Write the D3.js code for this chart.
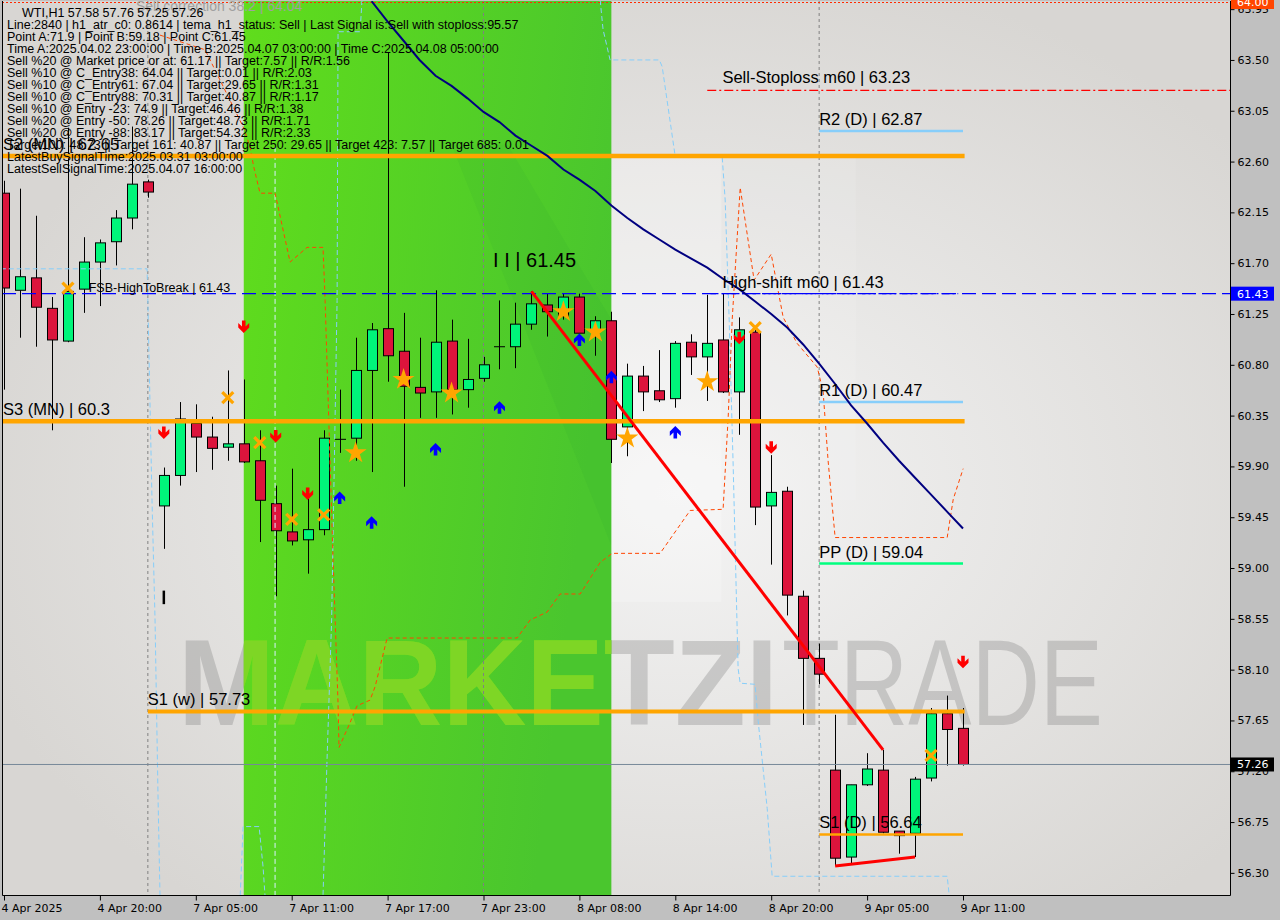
<!DOCTYPE html>
<html><head><meta charset="utf-8">
<script src="https://cdn.jsdelivr.net/npm/d3@7"></script>
<style>body{margin:0;background:#c0c0c0;}svg{display:block;}</style>
</head><body>
<svg id="c" width="1280" height="920"></svg>
<script>
// ---------- DATA ----------
const opens  = [62.32,61.46,61.57,61.30,61.01,61.47,61.71,61.89,62.10,62.42,59.55,59.82,60.28,60.16,60.07,60.10,59.95,59.57,59.32,59.25,59.34,60.14,60.15,60.75,61.12,60.92,60.60,60.56,61.01,60.58,60.68,60.96,60.96,61.16,61.33,61.23,61.40,61.11,61.19,60.25,60.70,60.57,60.50,61.00,60.87,61.02,60.56,61.09,59.55,59.68,58.75,58.20,57.21,56.44,57.08,57.21,56.67,56.65,57.14,57.71,57.58];
const highs  = [62.43,62.36,62.12,61.40,62.90,61.93,61.91,62.17,62.91,62.44,59.89,60.47,60.45,60.34,60.75,60.67,60.22,59.73,59.88,59.69,60.22,60.58,61.04,61.17,63.57,61.26,61.04,61.46,61.20,61.03,60.87,61.37,61.35,61.45,61.43,61.43,61.43,61.23,61.27,60.81,60.79,60.93,61.01,61.07,61.42,61.43,61.22,61.13,60.00,59.72,58.80,58.33,57.70,57.08,57.36,57.39,56.67,57.15,57.76,57.87,57.76];
const lows   = [60.58,61.04,60.96,60.22,61.00,61.26,61.32,61.68,62.00,62.28,59.17,59.73,59.85,59.87,59.95,59.93,59.23,58.75,59.20,58.95,59.29,60.02,59.95,59.85,60.65,59.72,60.33,60.33,60.36,60.42,60.65,60.76,60.77,61.11,61.05,61.20,61.08,60.88,59.93,59.99,60.39,60.47,60.42,60.71,60.48,60.55,60.18,59.38,59.03,58.58,57.61,57.97,56.36,56.37,57.07,56.65,56.47,56.44,57.11,57.25,57.25];
const closes = [61.48,61.58,61.31,61.02,61.45,61.71,61.88,62.10,62.40,62.33,59.82,60.32,60.16,60.06,60.10,59.94,59.60,59.33,59.24,59.34,60.15,60.14,60.75,61.11,60.88,60.61,60.55,61.00,60.58,60.67,60.80,60.96,61.16,61.34,61.27,61.40,61.08,61.19,60.14,60.70,60.56,60.49,60.99,60.87,60.99,60.56,61.11,59.54,59.67,58.76,58.20,58.06,56.43,57.08,57.22,56.66,56.63,57.13,57.71,57.57,57.26];

const timeTickIdx = [0,6,12,18,24,30,36,42,48,54,60];
const timeLabels = ["4 Apr 2025","4 Apr 20:00","7 Apr 05:00","7 Apr 11:00","7 Apr 17:00","7 Apr 23:00","8 Apr 08:00","8 Apr 14:00","8 Apr 20:00","9 Apr 05:00","9 Apr 11:00"];
const priceTicks = d3.range(18).map(i => +(56.30 + i*0.45).toFixed(2));

const headerLines = [
 "Line:2840 | h1_atr_c0: 0.8614 | tema_h1_status: Sell | Last Signal is:Sell with stoploss:95.57",
 "Point A:71.9 | Point B:59.18 | Point C:61.45",
 "Time A:2025.04.02 23:00:00 | Time B:2025.04.07 03:00:00 | Time C:2025.04.08 05:00:00",
 "Sell %20 @ Market price or at: 61.17 || Target:7.57 || R/R:1.56",
 "Sell %10 @ C_Entry38: 64.04 || Target:0.01 || R/R:2.03",
 "Sell %10 @ C_Entry61: 67.04 || Target:29.65 || R/R:1.31",
 "Sell %10 @ C_Entry88: 70.31 || Target:40.87 || R/R:1.17",
 "Sell %10 @ Entry -23: 74.9 || Target:46.46 || R/R:1.38",
 "Sell %20 @ Entry -50: 78.26 || Target:48.73 || R/R:1.71",
 "Sell %20 @ Entry -88: 83.17 || Target:54.32 || R/R:2.33",
 "Target100: 48.73 || Target 161: 40.87 || Target 250: 29.65 || Target 423: 7.57 || Target 685: 0.01",
 "LatestBuySignalTime:2025.03.31 03:00:00",
 "LatestSellSignalTime:2025.04.07 16:00:00"
];
const titleText = "WTI,H1  57.58 57.76 57.25 57.26";

const levelNames  = ["S2 (MN)","S3 (MN)","S1 (w)","R2 (D)","R1 (D)","PP (D)","S1 (D)"];
const levelPrices = [62.65, 60.3, 57.73, 62.87, 60.47, 59.04, 56.64];
const levelFrom   = [-0.2, -0.2, 9, 51, 51, 51, 51];
const levelTo     = [60.1, 60.1, 60.1, 60, 60, 60, 60];
const levelColors = ["#ffa500","#ffa500","#ffa500","#87cefa","#87cefa","#00ff7f","#ffa500"];
const levelWidths = [4.5, 4.5, 4, 2.5, 2.5, 2.5, 2.5];

const stoplossPrice = 63.23, stoplossFrom = 44;
const highShiftPrice = 61.43, highShiftFrom = 44.2;
const fsbPrice = 61.43;
const sellCorrPrice = 64.04;
const pointCPrice = 61.45;
const lastPrice = 57.26;
const separators = [9, 30, 51];
const greenBand = [15, 38];

const trendDown = [[33, 61.45],[55, 57.39]];
const trendLow  = [[52, 56.36],[57, 56.44]];

const temaBars = d3.range(23, 61);
const temaVals = [64.02,63.84,63.67,63.50,63.36,63.27,63.16,63.04,62.95,62.83,62.74,62.65,62.53,62.44,62.34,62.21,62.10,62.00,61.91,61.82,61.74,61.66,61.56,61.47,61.36,61.25,61.13,60.98,60.81,60.63,60.44,60.28,60.11,59.95,59.80,59.65,59.50,59.35];

const orangeStep = [[9.76,63.72],[12.58,63.59],[15.02,62.89],[15.39,62.73],[15.63,62.55],[16.02,62.32],[16.96,62.32],[17.9,61.71],[18.96,61.84],[19.96,61.84],[20.09,61.37],[20.59,59.07],[20.9,57.80],[20.96,57.41],[21.65,57.63],[22.09,57.78],[22.9,57.83],[23.22,57.95],[23.97,58.38],[32.1,58.38],[32.92,58.54],[33.98,58.61],[34.79,58.77],[36.05,58.77],[37.3,59.05],[38.05,59.13],[41.05,59.13],[42.93,59.51],[44.99,59.52],[45.31,60.34],[45.56,61.20],[46.06,62.37],[46.93,61.55],[48.0,61.78],[48.75,61.22],[49.62,60.99],[50.88,60.78],[51.25,60.56],[51.56,59.95],[52.0,59.27],[59.01,59.27],[59.39,59.61],[60.01,59.88]];
const cyanA = [[-0.2,61.65],[8.95,61.65],[9.0,61.37],[9.26,59.60],[9.45,58.54],[9.64,56.95],[9.76,56.10]];
const cyanB = [[16.96,62.73],[16.96,56.10]];
const cyanB2 = [[14.78,56.10],[14.96,56.71],[15.96,56.71],[16.21,56.35],[16.33,56.10]];
const cyanC = [[22.4,64.03],[22.28,63.75],[20.9,63.75],[20.84,61.37],[20.5,58.55],[20.21,57.30],[19.96,56.10]];
const cyanD = [[37.3,64.03],[37.48,63.77],[37.92,63.5],[41.0,63.5],[41.18,63.44],[41.99,62.65],[44.93,62.65],[45.12,62.26],[45.37,61.2],[45.62,59.91],[45.93,58.11],[46.06,57.98],[46.99,57.97],[47.18,57.65],[47.75,56.87],[48.06,56.27],[59.01,56.27],[59.14,56.10]];

const sellArrows = [[10,60.20],[15,61.14],[17,60.17],[19,59.66],[46,61.04],[48,60.07],[60,58.17]];
const buyArrows  = [[21,59.62],[23,59.40],[27,60.05],[31,60.42],[36,61.02],[38,60.69],[42,60.20]];
const stars      = [[22,60.02],[25,60.67],[28,60.55],[35,61.27],[37,61.09],[39,60.15],[44,60.65]];
const crosses    = [[4,61.48],[14,60.51],[16,60.11],[18,59.43],[20,59.47],[47,61.13],[58,57.34]];
const iMark = [10, 58.80, 58.68];

// ---------- LAYOUT ----------
const L=2, R=1230, T=1, B=895;
const x = d3.scaleLinear().domain([0,60]).range([4,963]);
const y = d3.scaleLinear().domain([56.104,64.031]).range([B,0]);

const svg = d3.select('#c');
const defs = svg.append('defs');
defs.append('clipPath').attr('id','plot').append('rect').attr('x',L).attr('y',T).attr('width',R-L).attr('height',B-T);
defs.append('clipPath').attr('id','band').append('rect')
  .attr('x',x(greenBand[0])).attr('y',T).attr('width',x(greenBand[1])-x(greenBand[0])).attr('height',B-T);
const rg = defs.append('radialGradient').attr('id','bg').attr('cx','0.55').attr('cy','0.55').attr('r','0.6');
rg.append('stop').attr('offset','0').attr('stop-color','#f4f4f4');
rg.append('stop').attr('offset','1').attr('stop-color','#d8d6d3');
const gg = defs.append('linearGradient').attr('id','gb').attr('x1','0').attr('x2','1').attr('y1','0').attr('y2','0.3');
gg.append('stop').attr('offset','0').attr('stop-color','#60dd1c');
gg.append('stop').attr('offset','1').attr('stop-color','#4ac62e');

svg.append('rect').attr('width',1280).attr('height',920).attr('fill','#c0c0c0');
const plot = svg.append('g').attr('clip-path','url(#plot)');
plot.append('rect').attr('x',L).attr('y',T).attr('width',R-L).attr('height',B-T).attr('fill','url(#bg)');

const logo = plot.append('g');
logo.append('rect').attr('x',x(greenBand[1])).attr('y',y(62.65)).attr('width',110).attr('height',y(58.7)-y(62.65)).attr('fill','#ffffff').attr('opacity',0.22);
logo.append('rect').attr('x',x(27)).attr('y',y(62.65)).attr('width',x(53.3)-x(27)).attr('height',y(59.6)-y(62.65)).attr('fill','#ffffff').attr('opacity',0.1);

plot.append('rect').attr('x',x(greenBand[0])).attr('y',T).attr('width',x(greenBand[1])-x(greenBand[0])).attr('height',B-T).attr('fill','url(#gb)');
const bandG = plot.append('g').attr('clip-path','url(#band)');
bandG.append('polygon').attr('points',[[x(28),y(62.75)],[x(31.5),y(62.75)],[x(38),y(61.2)],[x(38),y(59.2)]].join(' ')).attr('fill','#1a8a3a').attr('opacity',0.07);

function wm(g, fill, op){
  g.append('text').attr('x',178).attr('y',725).attr('font-family','Liberation Sans, Arial, sans-serif').attr('font-weight','bold')
    .attr('font-size',122).attr('textLength',600).attr('lengthAdjust','spacingAndGlyphs').attr('fill',fill).attr('opacity',op).text('MARKETZI');
  g.append('text').attr('x',782).attr('y',725).attr('font-family','Liberation Sans, Arial, sans-serif')
    .attr('font-size',122).attr('textLength',321).attr('lengthAdjust','spacingAndGlyphs').attr('fill',fill).attr('opacity',op).text('TRADE');
}
wm(plot.append('g'), '#7a7a7a', 0.3);
wm(bandG.append('g'), '#80ff00', 1);

plot.selectAll('.sep').data(separators).enter().append('line')
  .attr('x1',d=>x(d)).attr('x2',d=>x(d)).attr('y1',T).attr('y2',B)
  .attr('stroke','#808080').attr('stroke-width',1).attr('stroke-dasharray','3,3');

const bars = d3.range(opens.length);
const cg = plot.append('g');
cg.selectAll('.wick').data(bars).enter().append('line')
  .attr('x1',i=>Math.round(x(i))+0.5).attr('x2',i=>Math.round(x(i))+0.5)
  .attr('y1',i=>y(highs[i])).attr('y2',i=>y(lows[i])).attr('stroke','#000').attr('stroke-width',1);
cg.selectAll('.body').data(bars).enter().append('rect')
  .attr('x',i=>Math.round(x(i))-4.5).attr('width',10)
  .attr('y',i=>y(Math.max(opens[i],closes[i])))
  .attr('height',i=>Math.max(0.01,Math.abs(y(opens[i])-y(closes[i]))))
  .attr('fill',i=>closes[i]>=opens[i]?'#00f57a':'#dc143c')
  .attr('stroke','#000').attr('stroke-width',1);

const line = d3.line().x(d=>x(d[0])).y(d=>y(d[1]));
[cyanA,cyanB,cyanB2,cyanC,cyanD].forEach((pts,k)=>{
  plot.append('path').attr('d',line(pts)).attr('fill','none')
    .attr('stroke', k===1 ? '#d8f0ff' : '#87cefa').attr('stroke-width',1).attr('stroke-dasharray','5,3');
});
plot.append('path').attr('d',line(orangeStep)).attr('fill','none').attr('stroke','#ff4500').attr('stroke-width',1).attr('stroke-dasharray','4,3');

plot.append('line').attr('x1',L).attr('x2',R).attr('y1',y(lastPrice)).attr('y2',y(lastPrice)).attr('stroke','#778899').attr('stroke-width',1);

const scY = Math.max(y(sellCorrPrice), 2.5);
plot.append('line').attr('x1',L).attr('x2',R).attr('y1',scY).attr('y2',scY).attr('stroke','#ff2a00').attr('stroke-width',1.2).attr('stroke-dasharray','2,2');

plot.append('line').attr('x1',L).attr('x2',R).attr('y1',y(fsbPrice)).attr('y2',y(fsbPrice)).attr('stroke','#0000ff').attr('stroke-width',1.2).attr('stroke-dasharray','14,6');
plot.append('line').attr('x1',x(highShiftFrom)).attr('x2',x(59.7)).attr('y1',y(highShiftPrice)).attr('y2',y(highShiftPrice)).attr('stroke','#0000ff').attr('stroke-width',1.2).attr('stroke-dasharray','8,3,2,3,2,3');
plot.append('line').attr('x1',x(stoplossFrom)).attr('x2',R).attr('y1',y(stoplossPrice)).attr('y2',y(stoplossPrice)).attr('stroke','#ff0000').attr('stroke-width',1.2).attr('stroke-dasharray','9,3,2,3');

levelNames.forEach((n,i)=>{
  plot.append('line').attr('x1',x(levelFrom[i])).attr('x2',x(levelTo[i]))
    .attr('y1',y(levelPrices[i])).attr('y2',y(levelPrices[i]))
    .attr('stroke',levelColors[i]).attr('stroke-width',levelWidths[i]);
});

plot.append('path').attr('d',line(temaBars.map((b,i)=>[b,temaVals[i]]))).attr('fill','none').attr('stroke','#000080').attr('stroke-width',2);

plot.append('path').attr('d',line(trendDown)).attr('stroke','#ff0000').attr('stroke-width',3).attr('fill','none');
plot.append('path').attr('d',line(trendLow)).attr('stroke','#ff0000').attr('stroke-width',3).attr('fill','none');

const mk = plot.append('g');
const downArrow = "M-1.8,-6 L1.8,-6 L1.8,0 L5.5,-3.5 L5.5,1 L0,6.5 L-5.5,1 L-5.5,-3.5 L-1.8,0 Z";
const upArrow = "M-1.8,6 L1.8,6 L1.8,0 L5.5,3.5 L5.5,-1 L0,-6.5 L-5.5,-1 L-5.5,3.5 L-1.8,0 Z";
mk.selectAll('.sa').data(sellArrows).enter().append('path').attr('d',downArrow)
  .attr('transform',d=>`translate(${x(d[0])},${y(d[1])})`).attr('fill','#ff0000');
mk.selectAll('.ba').data(buyArrows).enter().append('path').attr('d',upArrow)
  .attr('transform',d=>`translate(${x(d[0])},${y(d[1])})`).attr('fill','#0000ff');
const starPath = d3.symbol().type(d3.symbolStar).size(150)();
mk.selectAll('.st').data(stars).enter().append('path').attr('d',starPath)
  .attr('transform',d=>`translate(${x(d[0])},${y(d[1])})`).attr('fill','#ffa500');
mk.selectAll('.cr').data(crosses).enter().append('path').attr('d','M-5.5,-5.5 L5.5,5.5 M-5.5,5.5 L5.5,-5.5')
  .attr('transform',d=>`translate(${x(d[0])},${y(d[1])})`).attr('stroke','#ffa500').attr('stroke-width',3.2).attr('fill','none');
mk.append('line').attr('x1',x(iMark[0])).attr('x2',x(iMark[0])).attr('y1',y(iMark[1])).attr('y2',y(iMark[2])).attr('stroke','#000').attr('stroke-width',2.5);

const big = "Liberation Sans, Arial, sans-serif";
function lab(txt, xx, yy, size, color){
  plot.append('text').attr('x',xx).attr('y',yy).attr('font-family',big).attr('font-size',size).attr('fill',color||'#000').text(txt);
}
levelNames.forEach((n,i)=>{
  const lx = levelFrom[i] < 0 ? 3 : x(levelFrom[i]);
  lab(`${n} | ${levelPrices[i]}`, lx, y(levelPrices[i]) - 6, 16.5);
});
lab(`Sell-Stoploss m60 | ${stoplossPrice}`, x(44.95), y(stoplossPrice)-7, 16.5);
lab(`High-shift m60 | ${highShiftPrice}`, x(44.95), y(highShiftPrice)-6, 16.5);
lab(`FSB-HighToBreak | ${fsbPrice}`, x(5.3), y(fsbPrice)-2, 12.5);
lab(`I I | ${pointCPrice}`, x(30.6), y(pointCPrice)-24, 20);
lab(`Sell correction 38.2 | ${sellCorrPrice}`, 136, 11, 14, '#a0a0a0');

const hg = svg.append('g').attr('font-family',big).attr('font-size',12.5).attr('fill','#000');
hg.append('text').attr('x',22).attr('y',17).text(titleText);
headerLines.forEach((t,i)=>hg.append('text').attr('x',7).attr('y',29+12*i).text(t));

svg.append('path').attr('d',`M${L+0.5},${T} V${B+0.5} H${R+0.5} V${T}`).attr('fill','none').attr('stroke','#000').attr('stroke-width',1);

const yAxis = svg.append('g').attr('transform',`translate(${R+0.5},0)`)
  .call(d3.axisRight(y).tickValues(priceTicks).tickFormat(d3.format('.2f')).tickSize(4).tickPadding(3));
yAxis.select('.domain').remove();
yAxis.selectAll('text').attr('font-family','DejaVu Sans, sans-serif').attr('font-size',11).attr('fill','#000');

const xAxis = svg.append('g').attr('transform',`translate(0,${B+0.5})`)
  .call(d3.axisBottom(x).tickValues(timeTickIdx).tickFormat((d,i)=>timeLabels[i]).tickSize(5).tickPadding(4));
xAxis.select('.domain').remove();
xAxis.selectAll('text').attr('font-family','DejaVu Sans, sans-serif').attr('font-size',11).attr('fill','#000').attr('text-anchor','start').attr('dx',-3);

function badge(price, bg, fg, yy){
  const yc = yy!==undefined ? yy : y(price);
  svg.append('rect').attr('x',R+1).attr('y',yc-7).attr('width',43).attr('height',14).attr('fill',bg);
  svg.append('text').attr('x',R+7).attr('y',yc+4).attr('font-family','DejaVu Sans, sans-serif').attr('font-size',11).attr('fill',fg).text(d3.format('.2f')(price));
}
badge(fsbPrice,'#0000ff','#ffffff');
badge(lastPrice,'#000000','#ffffff');
badge(64.00,'#ff4500','#ffffff', 2);
</script>
</body></html>
